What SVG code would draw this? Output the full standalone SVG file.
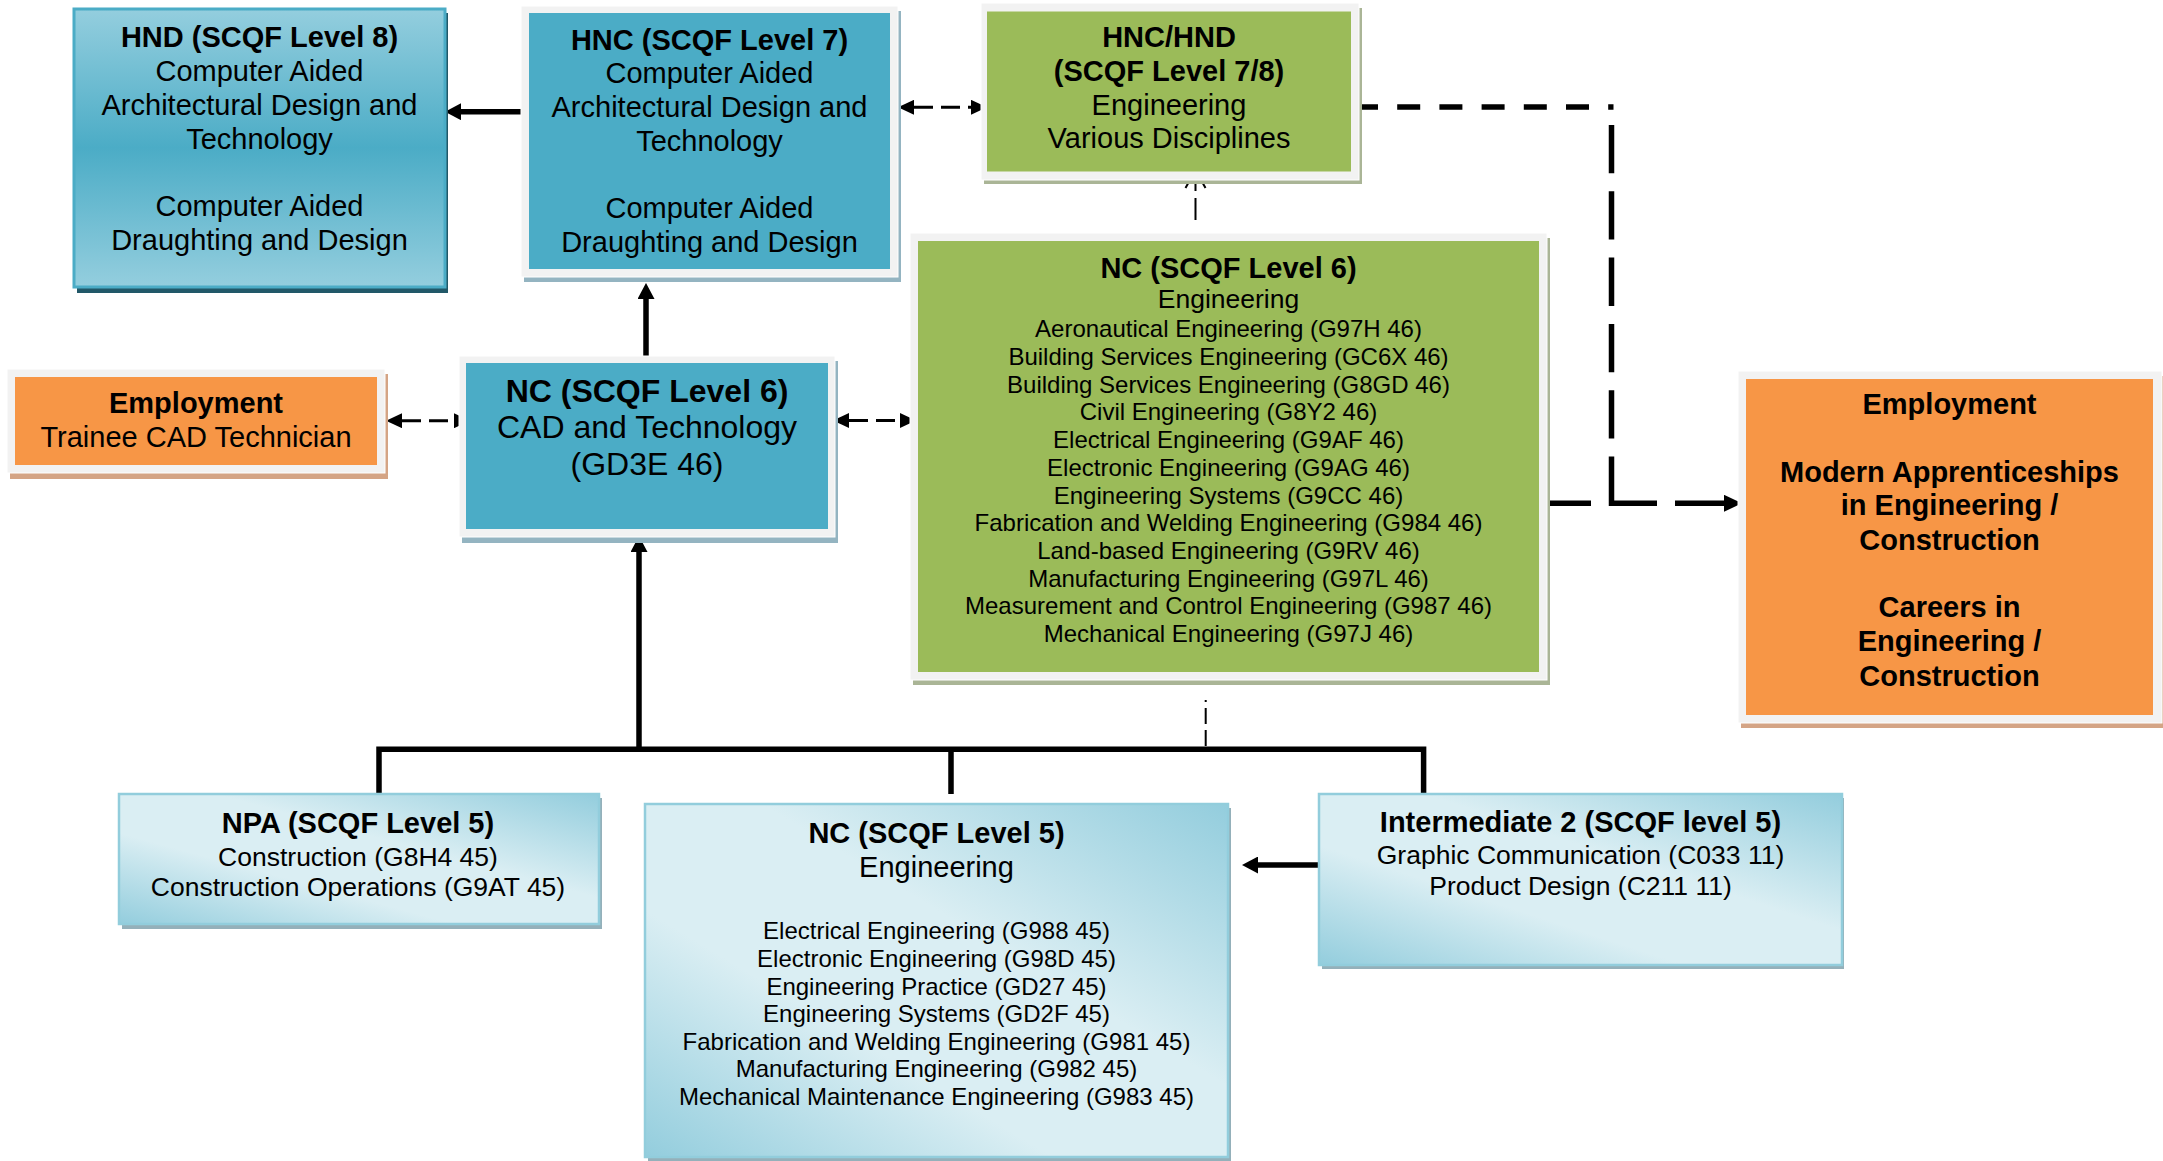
<svg xmlns="http://www.w3.org/2000/svg" width="2163" height="1161" viewBox="0 0 2163 1161">
<style>
text{font-family:"Liberation Sans",Arial,sans-serif;text-anchor:middle;fill:#000}
.b{font-weight:bold}
.s29{font-size:29px}
.s32{font-size:32px}
.s26{font-size:26.5px}
.s24{font-size:24px}
.frame{fill:#f2f2f2;stroke:#ffffff;stroke-width:1}
.blue{fill:#4bacc6}
.green{fill:#9bbb59}
.orange{fill:#f79646}
.shB{fill:#94b4c1}
.shG{fill:#aab596}
.shO{fill:#d4a485}
.shL{fill:#94b0ba}
.light{fill:url(#gLight);stroke:#92cddc;stroke-width:2.5}
.thick{fill:none;stroke:#000;stroke-width:5.5}
.thin{fill:none;stroke:#000;stroke-width:3;stroke-dasharray:19 8}
</style>
<defs>
<linearGradient id="gHND" x1="0" y1="0" x2="0" y2="1">
<stop offset="0" stop-color="#94cede"/>
<stop offset="0.5" stop-color="#4bacc6"/>
<stop offset="1" stop-color="#94cede"/>
</linearGradient>
<linearGradient id="gLight" x1="1" y1="0" x2="0" y2="1">
<stop offset="0" stop-color="#93cddd"/>
<stop offset="0.4" stop-color="#daeef3"/>
<stop offset="0.65" stop-color="#daeef3"/>
<stop offset="1" stop-color="#93cddd"/>
</linearGradient>
<marker id="ah" markerUnits="userSpaceOnUse" markerWidth="16" markerHeight="17" refX="0" refY="8.5" orient="auto">
<path d="M0,0 L16,8.5 L0,17 Z" fill="#000"/>
</marker>
<marker id="ahL" markerUnits="userSpaceOnUse" markerWidth="18" markerHeight="17" refX="0" refY="8.5" orient="auto">
<path d="M0,0 L18,8.5 L0,17 Z" fill="#000"/>
</marker>
<marker id="ahs" markerUnits="userSpaceOnUse" markerWidth="16" markerHeight="15" refX="0" refY="7.5" orient="auto-start-reverse">
<path d="M0,0 L16,7.5 L0,15 Z" fill="#000"/>
</marker>
<marker id="aho" markerUnits="userSpaceOnUse" markerWidth="21" markerHeight="24" refX="19.5" refY="12" orient="auto">
<path d="M1.5,2 L19.5,12 L1.5,22" fill="none" stroke="#000" stroke-width="2"/>
</marker>
</defs>

<g id="connectors">
<path class="thick" d="M528,111.7 H461" marker-end="url(#ah)"/>
<path class="thick" d="M646,356 V299" marker-end="url(#ah)"/>
<path class="thick" d="M639,749 V552" marker-end="url(#ah)"/>
<path class="thick" d="M1319,865 H1258" marker-end="url(#ah)"/>
<path class="thick" d="M379,794 V749.3 H1423.6 V794 M951,749.3 V794"/>
<path class="thin" d="M402,420.7 H454" marker-start="url(#ahs)" marker-end="url(#ahs)"/>
<path class="thin" d="M849,420.5 H900" marker-start="url(#ahs)" marker-end="url(#ahs)"/>
<path class="thin" d="M914,107.3 H971" marker-start="url(#ahs)" marker-end="url(#ahs)"/>
<path d="M1195.5,220 V170" fill="none" stroke="#000" stroke-width="2" stroke-dasharray="22 7" marker-end="url(#aho)"/>
<path d="M1205.7,746 V700" fill="none" stroke="#000" stroke-width="2" stroke-dasharray="16 6"/>
<path class="thick" d="M1355,107 H1613.5" stroke-dasharray="23 19.2"/>
<path class="thick" d="M1611.5,125 V503.3 H1724" stroke-dasharray="48.3 18 48.3 18 48.3 18 48.3 18 48.3 18 92.3 18 200" marker-end="url(#ahL)"/>
<path class="thick" d="M1547,503.3 H1591"/>
</g>

<g id="hnd">
<rect x="77" y="13" width="371" height="280" fill="#215868"/>
<rect x="74" y="9" width="371" height="278" fill="url(#gHND)" stroke="#4bacc6" stroke-width="3"/>
<text class="b s29" x="259.5" y="46.7">HND (SCQF Level 8)</text>
<text class="s29" x="259.5" y="81">Computer Aided</text>
<text class="s29" x="259.5" y="115">Architectural Design and</text>
<text class="s29" x="259.5" y="148.5">Technology</text>
<text class="s29" x="259.5" y="216">Computer Aided</text>
<text class="s29" x="259.5" y="250">Draughting and Design</text>
</g>

<g id="hnc">
<rect class="shB" x="524" y="11" width="377" height="271"/>
<rect class="frame" x="521" y="6" width="377" height="271"/>
<rect class="blue" x="529" y="13" width="361" height="256"/>
<text class="b s29" x="709.5" y="50">HNC (SCQF Level 7)</text>
<text class="s29" x="709.5" y="83.3">Computer Aided</text>
<text class="s29" x="709.5" y="117.3">Architectural Design and</text>
<text class="s29" x="709.5" y="150.7">Technology</text>
<text class="s29" x="709.5" y="218.3">Computer Aided</text>
<text class="s29" x="709.5" y="252.3">Draughting and Design</text>
</g>

<g id="hnc-hnd">
<rect class="shG" x="984" y="8" width="378" height="176"/>
<rect class="frame" x="981" y="3" width="378" height="177"/>
<rect class="green" x="987" y="11.5" width="364" height="160"/>
<text class="b s29" x="1169" y="47.3">HNC/HND</text>
<text class="b s29" x="1169" y="81">(SCQF Level 7/8)</text>
<text class="s29" x="1169" y="115">Engineering</text>
<text class="s29" x="1169" y="147.5">Various Disciplines</text>
</g>

<g id="nc6-engineering">
<rect class="shG" x="913" y="238" width="637" height="447"/>
<rect class="frame" x="910" y="233" width="637" height="447"/>
<rect class="green" x="918" y="241" width="621" height="431"/>
<text class="b s29" x="1228.5" y="278.3">NC (SCQF Level 6)</text>
<text class="s26" x="1228.5" y="308">Engineering</text>
<text class="s24" x="1228.5" y="337.3">Aeronautical Engineering (G97H 46)</text>
<text class="s24" x="1228.5" y="365">Building Services Engineering (GC6X 46)</text>
<text class="s24" x="1228.5" y="392.7">Building Services Engineering (G8GD 46)</text>
<text class="s24" x="1228.5" y="420.4">Civil Engineering (G8Y2 46)</text>
<text class="s24" x="1228.5" y="448.1">Electrical Engineering (G9AF 46)</text>
<text class="s24" x="1228.5" y="475.8">Electronic Engineering (G9AG 46)</text>
<text class="s24" x="1228.5" y="503.5">Engineering Systems (G9CC 46)</text>
<text class="s24" x="1228.5" y="531.2">Fabrication and Welding Engineering (G984 46)</text>
<text class="s24" x="1228.5" y="558.9">Land-based Engineering (G9RV 46)</text>
<text class="s24" x="1228.5" y="586.6">Manufacturing Engineering (G97L 46)</text>
<text class="s24" x="1228.5" y="614.3">Measurement and Control Engineering (G987 46)</text>
<text class="s24" x="1228.5" y="642">Mechanical Engineering (G97J 46)</text>
</g>

<g id="nc6-cad">
<rect class="shB" x="462" y="361" width="376" height="182"/>
<rect class="frame" x="459" y="356" width="376" height="181"/>
<rect class="blue" x="466" y="363" width="362" height="166"/>
<text class="b s32" x="647" y="401.7">NC (SCQF Level 6)</text>
<text class="s32" x="647" y="438.3">CAD and Technology</text>
<text class="s32" x="647" y="475">(GD3E 46)</text>
</g>

<g id="employment-trainee">
<rect class="shO" x="10" y="374" width="378" height="105"/>
<rect class="frame" x="7" y="369" width="378" height="104"/>
<rect class="orange" x="15" y="377" width="362" height="88"/>
<text class="b s29" x="196" y="413.3">Employment</text>
<text class="s29" x="196" y="447">Trainee CAD Technician</text>
</g>

<g id="employment-careers">
<rect class="shO" x="1741" y="376" width="424" height="352"/>
<rect class="frame" x="1738" y="371" width="424" height="352"/>
<rect class="orange" x="1746" y="379" width="407" height="336"/>
<text class="b s29" x="1949.5" y="414">Employment</text>
<text class="b s29" x="1949.5" y="481.7">Modern Apprenticeships</text>
<text class="b s29" x="1949.5" y="515.3">in Engineering /</text>
<text class="b s29" x="1949.5" y="549.7">Construction</text>
<text class="b s29" x="1949.5" y="617">Careers in</text>
<text class="b s29" x="1949.5" y="650.5">Engineering /</text>
<text class="b s29" x="1949.5" y="685.5">Construction</text>
</g>

<g id="npa">
<rect class="shL" x="122" y="798" width="480" height="131"/>
<rect class="light" x="119" y="794" width="480" height="130"/>
<text class="b s29" x="358" y="833.3">NPA (SCQF Level 5)</text>
<text class="s26" x="358" y="865.7">Construction (G8H4 45)</text>
<text class="s26" x="358" y="895.7">Construction Operations (G9AT 45)</text>
</g>

<g id="nc5">
<rect class="shL" x="648" y="808" width="583" height="353"/>
<rect class="light" x="645" y="804" width="583" height="353"/>
<text class="b s29" x="936.5" y="843.3">NC (SCQF Level 5)</text>
<text class="s29" x="936.5" y="876.7">Engineering</text>
<text class="s24" x="936.5" y="939.3">Electrical Engineering (G988 45)</text>
<text class="s24" x="936.5" y="966.9">Electronic Engineering (G98D 45)</text>
<text class="s24" x="936.5" y="994.5">Engineering Practice (GD27 45)</text>
<text class="s24" x="936.5" y="1022.1">Engineering Systems (GD2F 45)</text>
<text class="s24" x="936.5" y="1049.7">Fabrication and Welding Engineering (G981 45)</text>
<text class="s24" x="936.5" y="1077.3">Manufacturing Engineering (G982 45)</text>
<text class="s24" x="936.5" y="1104.9">Mechanical Maintenance Engineering (G983 45)</text>
</g>

<g id="intermediate2">
<rect class="shL" x="1322" y="798" width="522" height="171"/>
<rect class="light" x="1319" y="794" width="523" height="171"/>
<text class="b s29" x="1580.5" y="831.7">Intermediate 2 (SCQF level 5)</text>
<text class="s26" x="1580.5" y="864.3">Graphic Communication (C033 11)</text>
<text class="s26" x="1580.5" y="895">Product Design (C211 11)</text>
</g>
</svg>
